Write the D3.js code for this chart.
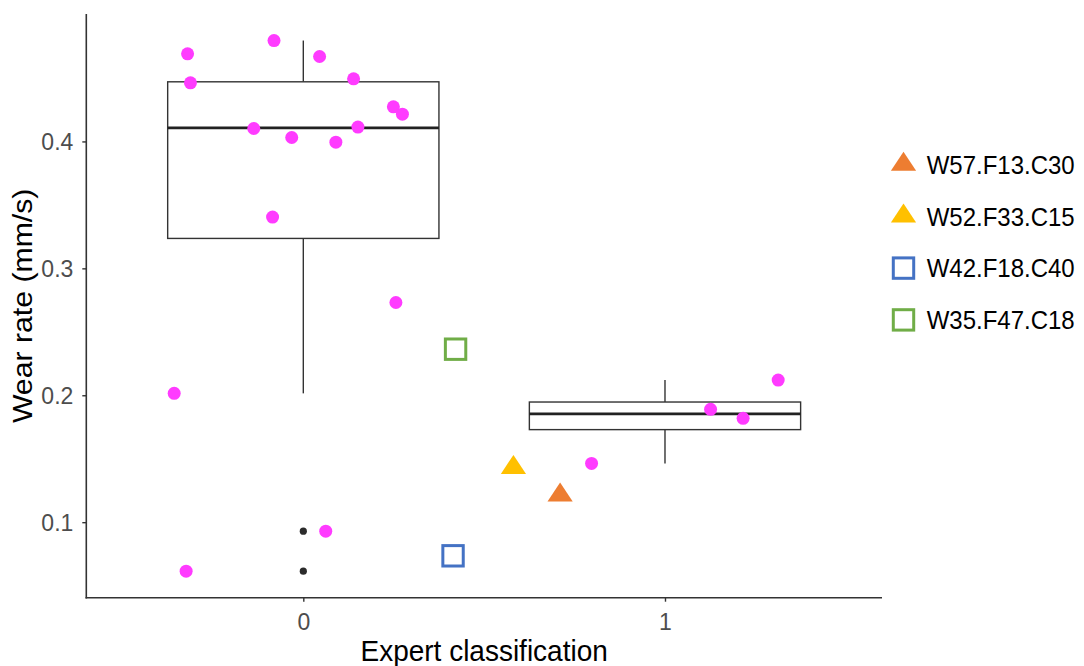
<!DOCTYPE html>
<html>
<head>
<meta charset="utf-8">
<script src="https://cdn.jsdelivr.net/npm/d3@7"></script>
<style>
  html, body { margin: 0; padding: 0; background: #fff; }
  svg text { font-family: "Liberation Sans", Arial, sans-serif; }
  .tall { transform-box: fill-box; transform-origin: center; transform: scaleY(1.08); }
</style>
</head>
<body>
<svg id="chart" width="1084" height="666"></svg>
<script>
// Expert classification groups
const categories = [0, 1];

// Wear rate (mm/s) of samples in class 0, with their horizontal jitter
const wear0   = [0.4690, 0.4462, 0.4795, 0.4669, 0.4493, 0.4273, 0.4215, 0.4102,
                 0.4113, 0.4031, 0.3994, 0.3404, 0.2731, 0.2015, 0.0614, 0.0929];
const jitter0 = [-0.320, -0.312, -0.081, 0.045, 0.139, 0.249, 0.274, -0.137,
                 0.151, -0.032, 0.090, -0.085, 0.256, -0.357, -0.324, 0.062];

// Wear rate (mm/s) of samples in class 1, with their horizontal jitter
const wear1   = [0.1463, 0.1889, 0.1818, 0.2120];
const jitter1 = [-0.203, 0.126, 0.216, 0.313];

// Highlighted samples
const sampleNames  = ["W57.F13.C30", "W52.F33.C15", "W42.F18.C40", "W35.F47.C18"];
const sampleX      = [0.710, 0.581, 0.414, 0.421];
const sampleWear   = [0.1212, 0.1430, 0.0735, 0.2363];
const sampleShapes = ["triangle", "triangle", "square", "square"];
const sampleColors = ["#ED7D31", "#FFC000", "#4472C4", "#70AD47"];

const yTicks = [0.1, 0.2, 0.3, 0.4];

const svg = d3.select("#chart");
const plot = { left: 86.3, right: 882, top: 14, bottom: 597.7 };

// Continuous y range with 5% padding around the data
const allWear = wear0.concat(wear1, sampleWear);
const [yMin, yMax] = d3.extent(allWear);
const pad = (yMax - yMin) * 0.05;
const y = d3.scaleLinear().domain([yMin - pad, yMax + pad]).range([plot.bottom, plot.top]);
const x = d3.scaleLinear().domain([-0.6, 1.6]).range([plot.left, plot.right]);

// Boxplot statistics (Tukey, 1.5 IQR)
function boxStats(values) {
  const s = values.slice().sort(d3.ascending);
  const q1 = d3.quantile(s, 0.25), med = d3.quantile(s, 0.5), q3 = d3.quantile(s, 0.75);
  const iqr = q3 - q1;
  const lo = q1 - 1.5 * iqr, hi = q3 + 1.5 * iqr;
  const inside = s.filter(v => v >= lo && v <= hi);
  return { q1, med, q3, wlo: d3.min(inside), whi: d3.max(inside),
           outliers: s.filter(v => v < lo || v > hi) };
}

const groups = [
  { cat: categories[0], wear: wear0, jitter: jitter0 },
  { cat: categories[1], wear: wear1, jitter: jitter1 }
];
const boxW = 0.75;
const lineCol = "#333333";

groups.forEach(g => {
  const st = boxStats(g.wear);
  const gb = svg.append("g");
  const cx = x(g.cat);
  gb.append("line").attr("x1", cx).attr("x2", cx).attr("y1", y(st.q3)).attr("y2", y(st.whi))
    .attr("stroke", lineCol).attr("stroke-width", 1.4);
  gb.append("line").attr("x1", cx).attr("x2", cx).attr("y1", y(st.q1)).attr("y2", y(st.wlo))
    .attr("stroke", lineCol).attr("stroke-width", 1.4);
  gb.append("rect")
    .attr("x", x(g.cat - boxW / 2)).attr("width", x(g.cat + boxW / 2) - x(g.cat - boxW / 2))
    .attr("y", y(st.q3)).attr("height", y(st.q1) - y(st.q3))
    .attr("fill", "#fff").attr("stroke", lineCol).attr("stroke-width", 1.4);
  gb.append("line")
    .attr("x1", x(g.cat - boxW / 2)).attr("x2", x(g.cat + boxW / 2))
    .attr("y1", y(st.med)).attr("y2", y(st.med))
    .attr("stroke", "#222").attr("stroke-width", 2.8);
  gb.selectAll("circle.out").data(st.outliers).join("circle")
    .attr("class", "out").attr("cx", cx).attr("cy", d => y(d)).attr("r", 3.6)
    .attr("fill", "#2b2b2b");
});

// Jittered sample points
groups.forEach(g => {
  svg.append("g").selectAll("circle").data(g.wear).join("circle")
    .attr("cx", (d, i) => x(g.cat + g.jitter[i]))
    .attr("cy", d => y(d))
    .attr("r", 6.5)
    .attr("fill", "#FF3BFF");
});

// Marker shapes for highlighted samples
function drawMarker(sel, shape, color) {
  if (shape === "triangle") {
    sel.append("path").attr("d", "M0,-12.7 L12.6,6.3 L-12.6,6.3 Z").attr("fill", color);
  } else {
    sel.append("rect").attr("x", -10.2).attr("y", -10.2).attr("width", 20.4).attr("height", 20.4)
      .attr("fill", "none").attr("stroke", color).attr("stroke-width", 3);
  }
}

sampleNames.forEach((n, i) => {
  const m = svg.append("g").attr("transform", `translate(${x(sampleX[i])},${y(sampleWear[i])})`);
  drawMarker(m, sampleShapes[i], sampleColors[i]);
});

// Axes
const yAxis = d3.axisLeft(y).tickValues(yTicks).tickSize(4).tickPadding(9).tickFormat(d3.format(".1f"));
const gy = svg.append("g").attr("transform", `translate(${plot.left},0)`).call(yAxis);
gy.select(".domain").remove();
gy.selectAll(".tick line").attr("stroke", lineCol).attr("stroke-width", 1.4);
gy.selectAll(".tick text").attr("fill", "#4D4D4D").attr("font-size", 23).attr("class", "tall");

const xAxis = d3.axisBottom(x).tickValues(categories).tickSize(4).tickPadding(11).tickFormat(d3.format("d"));
const gx = svg.append("g").attr("transform", `translate(0,${plot.bottom})`).call(xAxis);
gx.select(".domain").remove();
gx.selectAll(".tick line").attr("stroke", lineCol).attr("stroke-width", 1.4);
gx.selectAll(".tick text").attr("fill", "#4D4D4D").attr("font-size", 23).attr("class", "tall");

svg.append("line").attr("x1", plot.left).attr("x2", plot.left).attr("y1", plot.top).attr("y2", plot.bottom + 0.8)
  .attr("stroke", lineCol).attr("stroke-width", 1.6);
svg.append("line").attr("x1", plot.left - 0.8).attr("x2", plot.right).attr("y1", plot.bottom).attr("y2", plot.bottom)
  .attr("stroke", lineCol).attr("stroke-width", 1.6);

// Axis titles
svg.append("text").attr("x", (plot.left + plot.right) / 2).attr("y", 660)
  .attr("text-anchor", "middle").attr("font-size", 28).attr("fill", "#000").attr("class", "tall")
  .text("Expert classification");
svg.append("g").attr("transform", `translate(32,${(plot.top + plot.bottom) / 2}) rotate(-90) scale(1.08,1)`)
  .append("text").attr("text-anchor", "middle").attr("font-size", 28).attr("fill", "#000")
  .text("Wear rate (mm/s)");

// Legend
const legend = svg.append("g");
sampleNames.forEach((n, i) => {
  const row = legend.append("g").attr("transform", `translate(903.5,${164.5 + i * 51.8})`);
  drawMarker(row, sampleShapes[i], sampleColors[i]);
  row.append("text").attr("x", 23.2).attr("y", 0).attr("dy", "0.36em")
    .attr("font-size", 24).attr("fill", "#000").attr("class", "tall").text(n);
});
</script>
</body>
</html>
